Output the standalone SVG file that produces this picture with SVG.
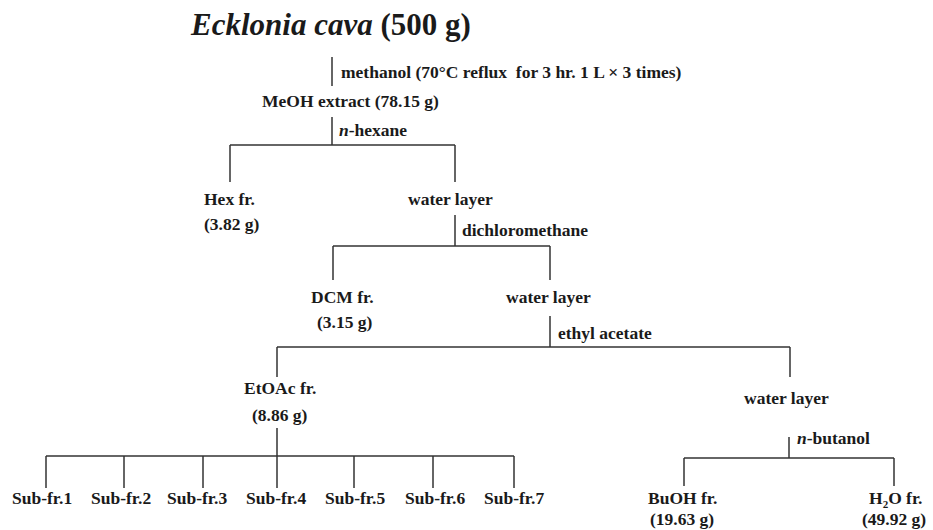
<svg xmlns="http://www.w3.org/2000/svg" width="933" height="530" viewBox="0 0 933 530">
<style>
text{font-family:"Liberation Serif","Times New Roman",serif;font-weight:bold;fill:#1a1a1a;font-size:17.5px}
.t{font-size:31px}
.i{font-style:italic}
#connectors line{stroke:#333;stroke-width:1.5;fill:none}
</style>
<rect width="933" height="530" fill="#fff"/>
<g id="connectors">
<line x1="332" y1="57" x2="332" y2="86"/>
<line x1="332" y1="117" x2="332" y2="145"/>
<line x1="230" y1="145" x2="455" y2="145"/>
<line x1="230" y1="145" x2="230" y2="182"/>
<line x1="455" y1="145" x2="455" y2="182"/>
<line x1="455" y1="215" x2="455" y2="246"/>
<line x1="333" y1="246" x2="550" y2="246"/>
<line x1="333" y1="246" x2="333" y2="280"/>
<line x1="550" y1="246" x2="550" y2="280"/>
<line x1="550" y1="316" x2="550" y2="347"/>
<line x1="277" y1="347" x2="790" y2="347"/>
<line x1="277" y1="347" x2="277" y2="377"/>
<line x1="790" y1="347" x2="790" y2="377"/>
<line x1="277" y1="428" x2="277" y2="456"/>
<line x1="46" y1="456" x2="514" y2="456"/>
<line x1="46" y1="456" x2="46" y2="488"/>
<line x1="124" y1="456" x2="124" y2="488"/>
<line x1="203" y1="456" x2="203" y2="488"/>
<line x1="277" y1="456" x2="277" y2="488"/>
<line x1="354" y1="456" x2="354" y2="488"/>
<line x1="433" y1="456" x2="433" y2="488"/>
<line x1="514" y1="456" x2="514" y2="488"/>
<line x1="789" y1="437" x2="789" y2="458"/>
<line x1="684" y1="458" x2="894" y2="458"/>
<line x1="684" y1="458" x2="684" y2="486"/>
<line x1="894" y1="458" x2="894" y2="486"/>
</g>
<g id="labels">
<text x="341" y="78" xml:space="preserve">methanol (70°C reflux  for 3 hr. 1 L × 3 times)</text>
<text x="339" y="136"><tspan class="i">n</tspan>-hexane</text>
<text x="462" y="236">dichloromethane</text>
<text x="558" y="339">ethyl acetate</text>
<text x="797" y="444"><tspan class="i">n</tspan>-butanol</text>
</g>
<g id="n-start"><text class="t" x="191" y="35"><tspan class="i">Ecklonia cava</tspan> (500 g)</text></g>
<g id="n-meoh"><text x="262" y="107">MeOH extract (78.15 g)</text></g>
<g id="n-hex"><text x="204" y="205">Hex fr.</text><text x="204" y="230">(3.82 g)</text></g>
<g id="n-water1"><text x="408" y="205">water layer</text></g>
<g id="n-dcm"><text x="311" y="303">DCM fr.</text><text x="317" y="328">(3.15 g)</text></g>
<g id="n-water2"><text x="506" y="303">water layer</text></g>
<g id="n-etoac"><text x="244" y="394">EtOAc fr.</text><text x="252" y="421">(8.86 g)</text></g>
<g id="n-water3"><text x="744" y="404">water layer</text></g>
<g id="n-sub1"><text x="12" y="504">Sub-fr.1</text></g>
<g id="n-sub2"><text x="91" y="504">Sub-fr.2</text></g>
<g id="n-sub3"><text x="167" y="504">Sub-fr.3</text></g>
<g id="n-sub4"><text x="246" y="504">Sub-fr.4</text></g>
<g id="n-sub5"><text x="325" y="504">Sub-fr.5</text></g>
<g id="n-sub6"><text x="405" y="504">Sub-fr.6</text></g>
<g id="n-sub7"><text x="484" y="504">Sub-fr.7</text></g>
<g id="n-buoh"><text x="648" y="504">BuOH fr.</text><text x="650" y="525">(19.63 g)</text></g>
<g id="n-h2o"><text x="869" y="504">H<tspan font-size="11" dy="4">2</tspan><tspan dy="-4">O fr.</tspan></text><text x="862" y="525">(49.92 g)</text></g>
</svg>
